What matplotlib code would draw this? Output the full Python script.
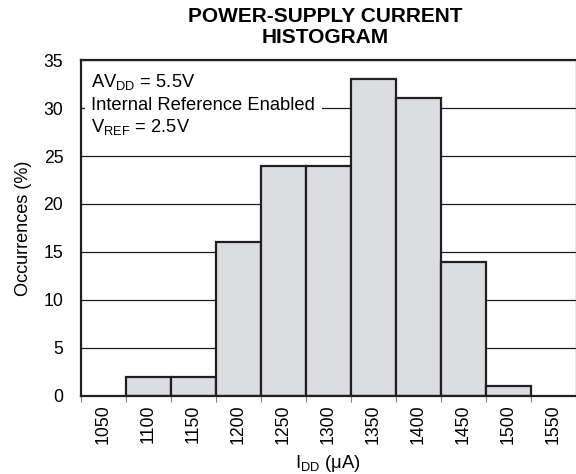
import numpy as np
import matplotlib
matplotlib.use("Agg")
import matplotlib.pyplot as plt

plt.rcParams['font.family'] = ['Liberation Sans', 'DejaVu Sans']
plt.rcParams['mathtext.fontset'] = 'custom'
plt.rcParams['mathtext.rm'] = 'Liberation Sans'
plt.rcParams['mathtext.it'] = 'Liberation Sans:italic'
plt.rcParams['mathtext.bf'] = 'Liberation Sans:bold'

# supply current bins (uA) and share of units in each bin (%)
bin_labels = [1050, 1100, 1150, 1200, 1250, 1300, 1350, 1400, 1450, 1500, 1550]
bin_centers = [1100, 1150, 1200, 1250, 1300, 1350, 1400, 1450, 1500]
occurrences = [2, 2, 16, 24, 24, 33, 31, 14, 1]
bin_width = 50

dark = '#231f20'

fig = plt.figure(figsize=(5.76, 4.74), dpi=100)
ax = fig.add_axes([0.140, 0.1646, 0.8595, 0.7088])

ax.bar(bin_centers, occurrences, width=bin_width, facecolor='#dcdde0',
       edgecolor=dark, linewidth=1.6, zorder=2)

ax.set_xlim(bin_labels[0] - bin_width / 2, bin_labels[-1] + bin_width / 2)
ax.set_ylim(0, 35)
ax.set_yticks(np.arange(0, 36, 5))
ax.yaxis.grid(True, color=dark, linewidth=0.9, zorder=1)
ax.set_axisbelow(True)

# labels sit at bin centres, tick marks at bin edges
edges = np.arange(len(bin_labels) + 1) * bin_width + bin_labels[0] - bin_width / 2
ax.set_xticks(bin_labels)
ax.set_xticklabels([str(v) for v in bin_labels], rotation=90)
ax.set_xticks(edges, minor=True)
ax.tick_params(axis='x', which='major', length=0, pad=6, labelsize=12.7)
ax.tick_params(axis='x', which='minor', length=4.5, width=0.8, color='#808080')
ax.tick_params(axis='y', length=0, pad=12.5, labelsize=12.7)

for side in ('left', 'top', 'bottom'):
    ax.spines[side].set_linewidth(1.6)
    ax.spines[side].set_color(dark)
ax.spines['right'].set_linewidth(1.0)
ax.spines['right'].set_color('#888888')

# test conditions
ax.text(0.0216, 0.921, r'AV$_{\mathrm{DD}}$ = 5.5V', transform=ax.transAxes,
        fontsize=13.2, va='baseline', ha='left', zorder=3)
ax.text(0.0216, 0.852, 'Internal Reference Enabled', transform=ax.transAxes,
        fontsize=13.2, va='baseline', ha='left', zorder=3,
        bbox=dict(boxstyle='square,pad=0.35', facecolor='white', edgecolor='none'))
ax.text(0.0216, 0.785, r'V$_{\mathrm{REF}}$ = 2.5V', transform=ax.transAxes,
        fontsize=13.2, va='baseline', ha='left', zorder=3)

fig.text(0.5648, 0.954, 'POWER-SUPPLY CURRENT', fontsize=15, fontweight='bold',
         ha='center', va='baseline')
fig.text(0.5648, 0.9087, 'HISTOGRAM', fontsize=15, fontweight='bold',
         ha='center', va='baseline')

fig.text(0.040, 0.519, 'Occurrences (%)', fontsize=13.1, rotation=90,
         ha='center', va='center')
fig.text(0.569, 0.012, r'I$_{\mathrm{DD}}$ (μA)', fontsize=13.3,
         ha='center', va='baseline')

fig.savefig('out.png', dpi=100)
